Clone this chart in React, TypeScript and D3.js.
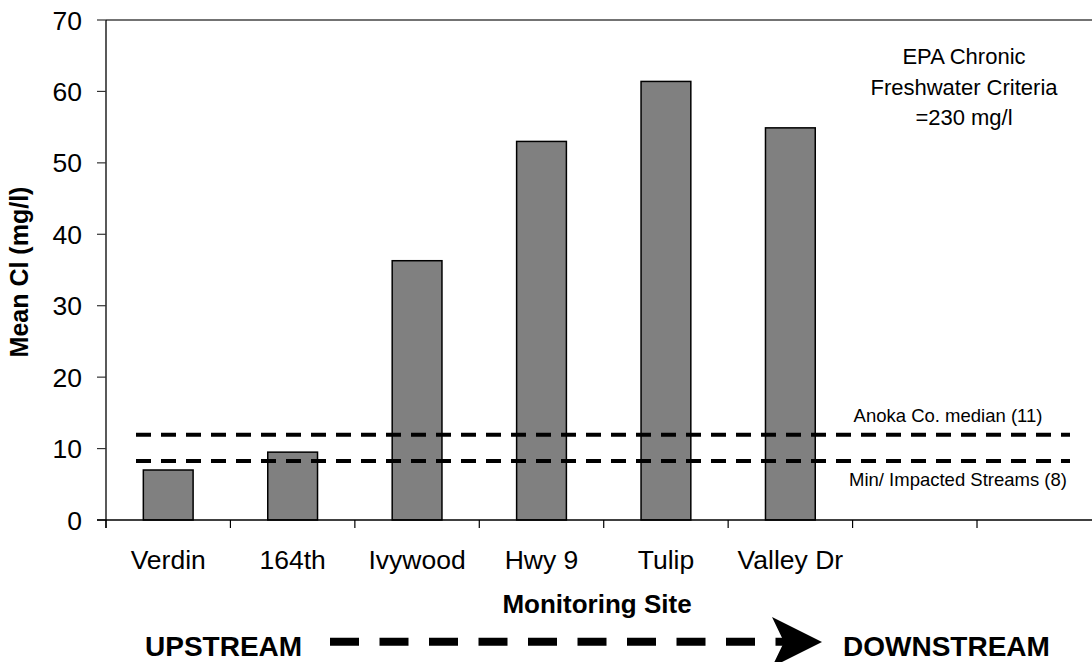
import React from "react";
import * as d3 from "d3";

const sites = ["Verdin", "164th", "Ivywood", "Hwy 9", "Tulip", "Valley Dr", "", " "];
const meanCl = [7.0, 9.5, 36.3, 53.0, 61.4, 54.9];
const yTicks = [0, 10, 20, 30, 40, 50, 60, 70];
const refLines = [
  { label: "Anoka Co. median (11)", value: 11.95, labelDy: -13, labelX: 948 },
  { label: "Min/ Impacted Streams (8)", value: 8.25, labelDy: 25, labelX: 958 },
];
const noteLines = ["EPA Chronic", "Freshwater Criteria", "=230 mg/l"];

const W = 1092;
const H = 662;
const left = 106;
const top = 20;
const bottom = 520;
const right = 106 + 8 * 124.43;
const FONT = "'Liberation Sans', Arial, Helvetica, sans-serif";

export default function App() {
  const x = d3.scaleBand<string>().domain(sites).range([left, right]).paddingInner(0.6).paddingOuter(0.3);
  const slot = d3.scaleBand<string>().domain(sites).range([left, right]).padding(0);
  const y = d3.scaleLinear().domain([0, 70]).range([bottom, top]);
  const tickX = slot.domain().map((d) => slot(d) as number).concat([right]);

  return (
    <svg width={W} height={H} style={{ position: "absolute", left: 0, top: 0, background: "#fff" }} fontFamily={FONT}>
      {/* plot top border */}
      <line x1={left} x2={right} y1={top} y2={top} stroke="#444" strokeWidth={1.3} />
      {/* bars */}
      {meanCl.map((v, i) => (
        <rect
          key={i}
          x={x(sites[i])}
          y={y(v)}
          width={x.bandwidth()}
          height={y(0) - y(v)}
          fill="#808080"
          stroke="#000"
          strokeWidth={1.5}
        />
      ))}
      {/* reference lines */}
      {refLines.map((r, i) => (
        <g key={i}>
          <line x1={136} x2={1070} y1={y(r.value)} y2={y(r.value)} stroke="#000" strokeWidth={4} strokeDasharray="15 10" />
          <text x={r.labelX} y={y(r.value) + r.labelDy} textAnchor="middle" fontSize={18.5} fill="#000">
            {r.label}
          </text>
        </g>
      ))}
      {/* y axis */}
      <line x1={left} x2={left} y1={top} y2={bottom + 8} stroke="#000" strokeWidth={1.3} />
      {yTicks.map((t) => (
        <g key={t}>
          <line x1={97} x2={left} y1={y(t)} y2={y(t)} stroke="#333" strokeWidth={1.2} />
          <text x={82} y={y(t) + 9.5} textAnchor="end" fontSize={26.5} fill="#000">
            {t}
          </text>
        </g>
      ))}
      {/* x axis */}
      <line x1={97} x2={right} y1={bottom} y2={bottom} stroke="#000" strokeWidth={1.3} />
      {tickX.map((tx, i) => (
        <line key={i} x1={tx} x2={tx} y1={bottom} y2={bottom + 8} stroke="#000" strokeWidth={1.2} />
      ))}
      {sites.map((s, i) => (
        <text key={i} x={(slot(s) as number) + slot.bandwidth() / 2} y={569} textAnchor="middle" fontSize={26.5} fill="#000">
          {s}
        </text>
      ))}
      {/* axis titles */}
      <text x={597} y={613} textAnchor="middle" fontSize={26} fontWeight="bold" fill="#000">
        Monitoring Site
      </text>
      <text
        transform={`translate(28, ${(top + bottom) / 2 + 2}) rotate(-90)`}
        textAnchor="middle"
        fontSize={25}
        fontWeight="bold"
        fill="#000"
      >
        Mean Cl (mg/l)
      </text>
      {/* EPA note */}
      {noteLines.map((l, i) => (
        <text key={i} x={964} y={64 + i * 30.5} textAnchor="middle" fontSize={22} fill="#000">
          {l}
        </text>
      ))}
      {/* upstream / downstream arrow */}
      <text x={145} y={656} fontSize={28} fontWeight="bold" fill="#000">
        UPSTREAM
      </text>
      <line x1={330} x2={790} y1={641.7} y2={641.7} stroke="#000" strokeWidth={8} strokeDasharray="29 20.5" />
      <polygon points="772,617 822,642 772,667 784,642" fill="#000" />
      <text x={843} y={656} fontSize={28} fontWeight="bold" fill="#000">
        DOWNSTREAM
      </text>
    </svg>
  );
}
